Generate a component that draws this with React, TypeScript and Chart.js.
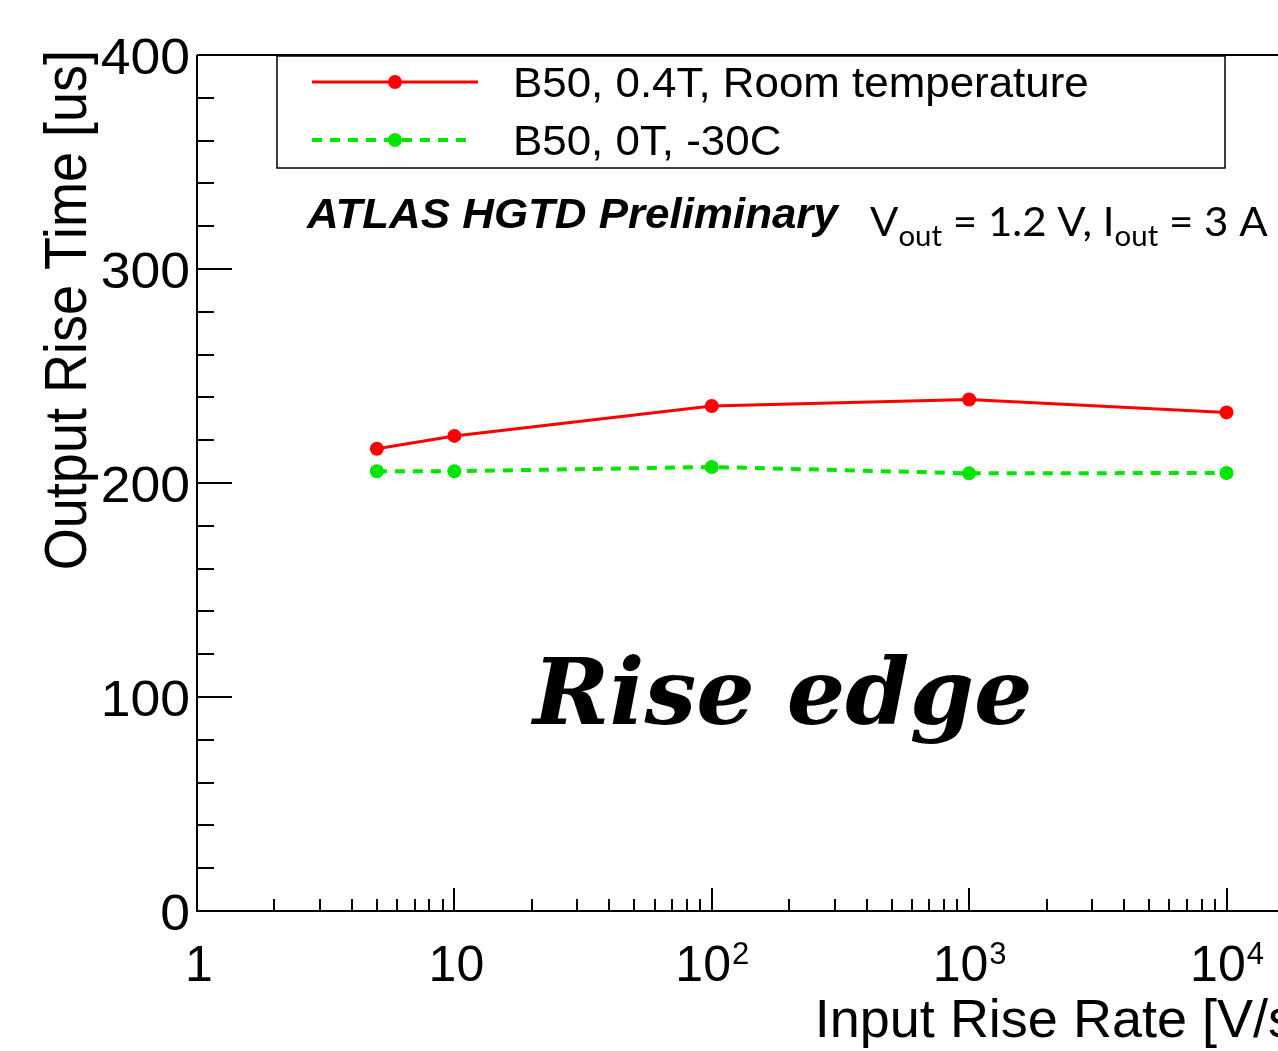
import React, { useEffect, useRef } from "react";
import { Chart, registerables } from "chart.js";

Chart.register(...registerables);

// ---- data ----
const xValues = [5, 10, 100, 1000, 10000];
const redSeries = [216, 222, 236, 239, 233];
const greenSeries = [205.5, 205.5, 207.5, 204.5, 204.7];
const seriesLabels = ["B50, 0.4T, Room temperature", "B50, 0T, -30C"];
const xTickValues = [1, 10, 100, 1000, 10000];
const xTickLabels = ["1", "10", "10^2", "10^3", "10^4"];
const yTickValues = [0, 100, 200, 300, 400];
const yTickLabels = ["0", "100", "200", "300", "400"];
const xTitle = "Input Rise Rate [V/s]";
const yTitle = "Output Rise Time [us]";
const atlasText = "ATLAS HGTD Preliminary";
const edgeText = "Rise edge";

const RED = "#ff0000";
const GREEN = "#00e600";
const SANS = "'Liberation Sans', Arial, sans-serif";

function txt(
  ctx: CanvasRenderingContext2D,
  s: string,
  x: number,
  y: number,
  font: string,
  align: CanvasTextAlign = "left",
  baseline: CanvasTextBaseline = "alphabetic",
  sx = 1
) {
  ctx.save();
  ctx.font = font;
  ctx.textAlign = align;
  ctx.textBaseline = baseline;
  ctx.translate(x, y);
  ctx.scale(sx, 1);
  ctx.fillText(s, 0, 0);
  ctx.restore();
}

const decorPlugin = {
  id: "decor",
  afterDraw(chart: any) {
    const ctx: CanvasRenderingContext2D = chart.ctx;
    const xs = chart.scales.x;
    const ys = chart.scales.y;
    const ca = chart.chartArea;
    ctx.save();
    ctx.fillStyle = "#000";
    ctx.strokeStyle = "#000";

    // frame: left axis, bottom axis, top line
    ctx.lineWidth = 2;
    ctx.beginPath();
    ctx.moveTo(ca.left, ca.top);
    ctx.lineTo(ca.right, ca.top);
    ctx.moveTo(ca.left, ca.top);
    ctx.lineTo(ca.left, ca.bottom);
    ctx.lineTo(ca.right, ca.bottom);
    ctx.stroke();

    // y ticks (inside)
    ctx.lineWidth = 2;
    ctx.beginPath();
    for (let v = 0; v <= 400; v += 20) {
      const py = Math.round(ys.getPixelForValue(v));
      const len = v % 100 === 0 ? 35 : 17;
      ctx.moveTo(ca.left, py);
      ctx.lineTo(ca.left + len, py);
    }
    ctx.stroke();

    // x ticks (inside, log)
    ctx.beginPath();
    for (let d = 1; d <= 10000; d *= 10) {
      for (let m = 1; m <= 9; m++) {
        const v = d * m;
        if (v > xs.max) break;
        const px = Math.round(xs.getPixelForValue(v));
        const len = m === 1 ? 23 : 12;
        ctx.moveTo(px, ca.bottom);
        ctx.lineTo(px, ca.bottom - len);
      }
    }
    ctx.stroke();

    // y tick labels
    yTickValues.forEach((v, i) => {
      const py = ys.getPixelForValue(v);
      txt(ctx, yTickLabels[i], ca.left - 7, py + 19, `50px ${SANS}`, "right", "alphabetic", 1.07);
    });

    // x tick labels
    const baseFont = `50px ${SANS}`;
    const supFont = `31px ${SANS}`;
    xTickValues.forEach((v, i) => {
      const px = xs.getPixelForValue(v);
      const lab = xTickLabels[i];
      const by = ca.bottom + 70;
      if (lab.includes("^")) {
        const [b, e] = lab.split("^");
        ctx.font = baseFont;
        const w1 = ctx.measureText(b).width;
        ctx.font = supFont;
        const w2 = ctx.measureText(e).width;
        const start = px - (w1 + w2) / 2;
        txt(ctx, b, start, by, baseFont);
        txt(ctx, e, start + w1 + 1, by - 17, supFont);
      } else {
        txt(ctx, lab, px + 2, by, baseFont, "center");
      }
    });

    // axis titles
    txt(ctx, xTitle, ca.right + 6, 1037, `54px ${SANS}`, "right");
    ctx.save();
    ctx.translate(86, ca.top - 5);
    ctx.rotate(-Math.PI / 2);
    ctx.scale(1, 1.08);
    ctx.font = `54px ${SANS}`;
    ctx.textAlign = "right";
    ctx.textBaseline = "alphabetic";
    ctx.fillText(yTitle, 0, 0);
    ctx.restore();

    // legend
    ctx.lineWidth = 1.5;
    ctx.strokeRect(277, 56, 948, 112);
    const rows = [
      { y: 82, color: RED, dash: [] as number[], w: 3, x2: 478 },
      { y: 140, color: GREEN, dash: [10, 8], w: 4, x2: 472 },
    ];
    rows.forEach((r, i) => {
      ctx.save();
      ctx.strokeStyle = r.color;
      ctx.lineWidth = r.w;
      ctx.setLineDash(r.dash);
      ctx.beginPath();
      ctx.moveTo(312, r.y);
      ctx.lineTo(r.x2, r.y);
      ctx.stroke();
      ctx.setLineDash([]);
      ctx.fillStyle = r.color;
      ctx.beginPath();
      ctx.arc(395, r.y, 7, 0, Math.PI * 2);
      ctx.fill();
      ctx.restore();
      txt(ctx, seriesLabels[i], 513, r.y + 15, `42px ${SANS}`, "left", "alphabetic", 1.045);
    });

    // annotations
    txt(ctx, atlasText, 307, 228, `italic bold 42px ${SANS}`, "left", "alphabetic", 1.045);
    const cal = "Lato, 'Open Sans', sans-serif";
    let x = 870;
    const sx = 1.05;
    const mainF = `40px ${cal}`;
    const subF = `28px ${cal}`;
    const parts: [string, boolean][] = [
      ["V", false],
      ["out", true],
      [" = 1.2 V, I", false],
      ["out", true],
      [" = 3 A", false],
    ];
    parts.forEach(([s, sub]) => {
      ctx.font = sub ? subF : mainF;
      const w = ctx.measureText(s).width * sx;
      txt(ctx, s, x, sub ? 246 : 236, sub ? subF : mainF, "left", "alphabetic", sx);
      x += w;
    });

    txt(ctx, edgeText, 533, 724, `italic bold 92px 'DejaVu Serif', serif`);

    ctx.restore();
  },
};

export default function App() {
  const ref = useRef<HTMLCanvasElement>(null);
  useEffect(() => {
    if (!ref.current) return;
    const chart = new Chart(ref.current, {
      type: "line",
      data: {
        datasets: [
          {
            label: seriesLabels[0],
            data: xValues.map((x, i) => ({ x, y: redSeries[i] })),
            borderColor: RED,
            backgroundColor: RED,
            borderWidth: 3,
            pointRadius: 7,
            pointBorderWidth: 0,
            pointBackgroundColor: RED,
            tension: 0,
          },
          {
            label: seriesLabels[1],
            data: xValues.map((x, i) => ({ x, y: greenSeries[i] })),
            borderColor: GREEN,
            backgroundColor: GREEN,
            borderWidth: 4,
            borderDash: [10, 8],
            pointRadius: 7,
            pointBorderWidth: 0,
            pointBackgroundColor: GREEN,
            tension: 0,
          },
        ],
      },
      options: {
        animation: false,
        responsive: false,
        devicePixelRatio: 1,
        layout: { padding: { left: 197, top: 55, right: 16, bottom: 140 } },
        plugins: { legend: { display: false }, tooltip: { enabled: false } },
        scales: {
          x: { type: "logarithmic", min: 1, max: 20000, display: false },
          y: { type: "linear", min: 0, max: 400, display: false },
        },
      },
      plugins: [decorPlugin],
    });
    return () => chart.destroy();
  }, []);
  return (
    <div
      style={{
        position: "fixed",
        left: 0,
        top: 0,
        width: 1278,
        height: 1051,
        overflow: "hidden",
        background: "#fff",
      }}
    >
      <canvas ref={ref} width={1320} height={1051} style={{ display: "block" }} />
    </div>
  );
}
